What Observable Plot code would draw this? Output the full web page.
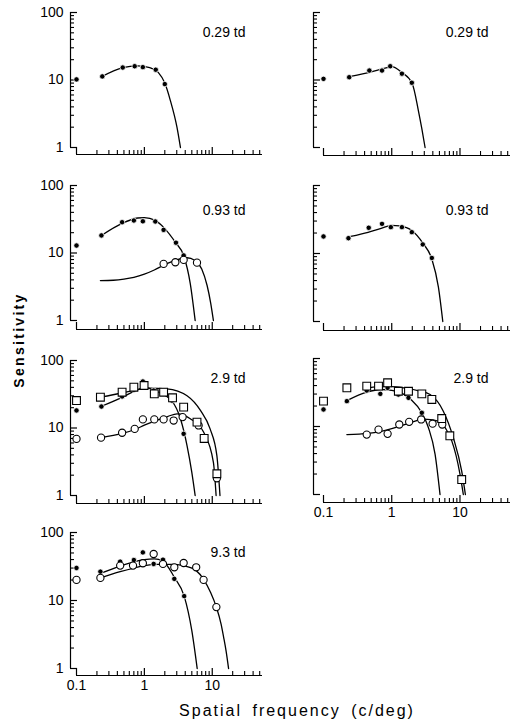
<!DOCTYPE html>
<html><head><meta charset="utf-8">
<script src="https://cdn.jsdelivr.net/npm/d3@7"></script>
<script src="https://cdn.jsdelivr.net/npm/@observablehq/plot@0.6"></script>
<style>
body{margin:0;background:#fff;}
#fig{position:relative;width:510px;height:724px;overflow:hidden;background:#fff;font-family:"Liberation Sans",Arial,sans-serif;color:#000;}
.panel{position:absolute;}
#ylab{position:absolute;left:19px;top:340px;transform:translate(-50%,-50%) rotate(-90deg);font-weight:bold;font-size:14px;letter-spacing:2.3px;white-space:nowrap;}
#xlab{position:absolute;left:297px;top:711px;transform:translate(-50%,-50%);font-size:16px;letter-spacing:2px;word-spacing:4px;white-space:nowrap;}
</style></head>
<body><div id="fig"><div id="ylab">Sensitivity</div><div id="xlab">Spatial frequency (c/deg)</div></div>
<script>
// ---- axis ticks and labels ----
const xTicksMajor = [0.1, 1, 10];
const xTickLabels = ["0.1", "1", "10"];
const xTicksMinor = [0.2,0.3,0.4,0.5,0.6,0.7,0.8,0.9,2,3,4,5,6,7,8,9,20,30,40,50];
const yTicksMajor = [1, 10, 100];
const yTickLabels = ["1", "10", "100"];
const yTicksMinor = [2,3,4,5,6,7,8,9,20,30,40,50,60,70,80,90];
const panelLabels = ["0.29 td", "0.29 td", "0.93 td", "0.93 td", "2.9 td", "2.9 td", "9.3 td"];

// ---- 0.29 td, left ----
const td029L_filled = [[0.1,10.2],[0.24,11.3],[0.48,15.3],[0.72,16.0],[0.95,15.5],[1.47,14.2],[2.0,8.7]];
const td029L_filledFit = [[0.24,11.3],[0.48,15.2],[0.8,16.2],[1.2,15.3],[1.6,13],[2.0,9],[2.41,5.0],[3.02,2.0],[3.4,1.0]];
// ---- 0.29 td, right ----
const td029R_filled = [[0.1,10.4],[0.238,11.0],[0.47,13.8],[0.72,13.8],[0.95,16.0],[1.41,12.4],[1.97,9.1]];
const td029R_filledFit = [[0.25,11.3],[0.5,13.2],[0.8,15],[1.0,15.8],[1.4,13],[2.0,8.8],[2.46,3.5],[2.76,1.9],[3.08,1.0]];
// ---- 0.93 td, left ----
const td093L_filled = [[0.1,12.9],[0.233,18.2],[0.47,28.6],[0.70,30.3],[0.95,29.5],[1.45,29.3],[1.92,22],[2.92,14.2],[3.79,9.2]];
const td093L_filledFit = [[0.233,18.2],[0.47,27.5],[0.8,33],[1.0,33.5],[1.45,30.5],[1.92,24],[2.92,14],[3.79,9.2],[4.75,3.5],[5.6,1.0]];
const td093L_open = [[1.92,6.9],[2.86,7.3],[3.79,7.9],[5.96,7.2]];
const td093L_openFit = [[0.225,3.9],[0.35,3.95],[0.5,4.1],[0.7,4.35],[1.0,4.85],[1.4,5.6],[2.0,6.7],[3.0,7.9],[4.25,8.5],[5.5,7.8],[7,5.8],[8.4,3.3],[9.5,1.8],[10.4,1.0]];
// ---- 0.93 td, right ----
const td093R_filled = [[0.1,17.8],[0.232,16.8],[0.46,23.9],[0.72,27.3],[0.97,24.4],[1.41,24.4],[1.97,20.6],[2.85,13.6],[3.87,8.6]];
const td093R_filledFit = [[0.25,17.8],[0.45,20.5],[0.7,23.5],[1.0,26],[1.3,25.5],[1.97,21.8],[2.9,13.9],[3.87,8.3],[4.83,3.2],[5.6,1.0]];
// ---- 2.9 td, left ----
const td29L_square = [[0.1,25.5],[0.225,28.6],[0.47,33.9],[0.70,40.2],[0.99,42.6],[1.40,32.1],[1.92,33.9],[2.6,28],[3.79,20.4],[5.96,12.2],[7.6,7.0],[11.7,2.1]];
const td29L_squareFit = [[0.225,28.6],[0.47,33],[0.8,37],[1.2,39],[2.15,38],[4.25,30],[6.7,18.2],[9.3,9.7],[11.7,3.9],[13,1.0]];
const td29L_filled = [[0.1,18.2],[0.233,20.8],[0.47,29.3],[0.70,36.8],[0.95,48.9],[1.37,35.9],[2.55,25.5],[3.79,8.2]];
const td29L_filledFit = [[0.233,21],[0.47,28.5],[0.8,37],[1.0,40],[1.5,35],[2.55,25],[3.4,13.7],[4.25,5.5],[5.0,2.2],[5.6,1.0]];
const td29L_open = [[0.1,6.9],[0.23,7.2],[0.47,8.5],[0.72,9.7],[0.95,13.4],[1.40,13.4],[1.92,13.4],[2.7,12.9],[3.66,14.5],[6.3,10.9],[11.7,1.8]];
const td29L_openFit = [[0.23,7.2],[0.47,8.3],[0.72,9.5],[1.0,11],[1.5,13],[2.2,14.8],[3.03,16.2],[4.75,13.7],[7.45,8.7],[10.4,3.1],[11.4,1.0]];
// ---- 2.9 td, right ----
const td29R_square = [[0.1,23.6],[0.22,37.1],[0.43,39.2],[0.64,39.2],[0.87,43.9],[1.25,33],[1.76,33],[2.76,30.2],[3.87,25],[5.4,13.1],[7.1,7.3],[10.6,1.66]];
const td29R_squareFit = [[0.43,37],[0.7,38.5],[1.0,38.5],[1.5,37],[2.5,33.5],[3.65,29.5],[5.7,16.8],[8.0,6.8],[10.6,2.2],[12,1.0]];
const td29R_filled = [[0.1,17.8],[0.22,23.6],[0.43,33.8],[0.68,30.2],[0.87,37],[1.25,29.5],[1.76,26.4],[2.76,15.9]];
const td29R_filledFit = [[0.22,24],[0.43,32],[0.7,35],[1.0,34],[1.4,31],[1.9,25],[2.76,15.9],[3.45,9.6],[4.32,3.9],[5.1,1.0]];
const td29R_open = [[0.43,7.6],[0.64,9.0],[0.87,7.8],[1.29,10.7],[1.8,11.7],[2.7,12.7],[3.97,11],[5.5,10.7]];
const td29R_openFit = [[0.22,7.6],[0.45,7.9],[0.7,8.5],[1.0,9.3],[1.5,10.6],[2.2,12],[2.8,12.8],[4,12.5],[5.5,11],[6.5,8.5],[7.6,6.1],[10,2.0],[11.2,1.0]];
// ---- 9.3 td, left ----
const td93L_filled = [[0.1,30.1],[0.225,26.6],[0.44,37.3],[0.70,39.4],[0.95,51],[1.37,34.5],[1.88,39.8],[2.76,20.8],[3.86,11.6]];
const td93L_filledFit = [[0.225,25],[0.44,32],[0.7,37],[1.0,40],[1.4,41],[1.88,38],[2.76,22],[3.86,11.6],[5.0,3.6],[6.0,1.0]];
const td93L_open = [[0.1,20.1],[0.225,21.5],[0.44,32.6],[0.68,32.6],[0.95,35.3],[1.37,48.3],[1.88,34.5],[2.76,30.8],[3.79,35.6],[5.8,30.8],[7.45,20.1],[11.5,8.0]];
const td93L_openFit = [[0.225,21.5],[0.44,26.5],[0.7,30],[1.0,32.5],[1.5,34],[2.5,34],[3.8,32.5],[5.8,27.5],[7.45,20.5],[9.5,13],[11.5,8],[13.5,4.5],[14.7,2.9],[16,1.8],[17.4,1.0]];

// ---- layout ----
const LEFT = {svgLeft: 0, width: 270, mL: 70, mR: 8, xr: [76, 262], labelDx: -17};
const RIGHT = {svgLeft: 270, width: 240, mL: 43, mR: 0, xr: [53, 240], labelDx: -22};

const px = d => d[0], py = d => d[1];
function layerMarks(l) {
  const m = [];
  if (l.fit) m.push(Plot.line(l.fit, {x: px, y: py, curve: "monotone-x", stroke: "black", strokeWidth: 1.3}));
  return m;
}
function dotMarks(l) {
  if (!l.dots) return [];
  if (l.kind === "filled") return [Plot.dot(l.dots, {x: px, y: py, r: 2.7, fill: "black", stroke: "white", strokeWidth: 0.8})];
  if (l.kind === "open") return [Plot.dot(l.dots, {x: px, y: py, r: 3.6, fill: "white", stroke: "black", strokeWidth: 1.1})];
  return [Plot.dot(l.dots, {x: px, y: py, symbol: "square", r: 4.4, fill: "white", stroke: "black", strokeWidth: 1.1})];
}

function makePanel(col, y100, y1, yAxis, label, labelDy, layers, showX, showY) {
  const top = y100 - 12, mT = 12, mB = 26;
  const height = yAxis - top + mB;
  const frameH = yAxis - y100;
  const frameW = col.width - col.mL - col.mR;
  const marks = [
    Plot.ruleX([0.1], {dx: col.mL - col.xr[0], y1: 1, y2: 100, strokeWidth: 1.2}),
    Plot.ruleY([1], {x1: 0.1, x2: 55, dy: yAxis - y1, strokeWidth: 1.2}),
    Plot.tickY(yTicksMinor, {y: d => d, insetRight: frameW - 4, strokeWidth: 1.1}),
    Plot.tickY(yTicksMajor, {y: d => d, insetRight: frameW - 7, strokeWidth: 1.2}),
    Plot.tickX(xTicksMinor, {x: d => d, insetTop: frameH - 4, strokeWidth: 1.1}),
    Plot.tickX(xTicksMajor, {x: d => d, insetTop: frameH - 7, strokeWidth: 1.2}),
  ];
  layers.forEach(l => marks.push(...layerMarks(l)));
  layers.forEach(l => marks.push(...dotMarks(l)));
  marks.push(Plot.text([label], {text: d => d, frameAnchor: "top-right", dx: col.labelDx, dy: labelDy, lineAnchor: "middle", textAnchor: "end", fontSize: 14}));
  if (showX) marks.push(Plot.axisX({ticks: xTicksMajor, tickSize: 0, tickPadding: 5, label: null, fontSize: 14,
      tickFormat: d => xTickLabels[xTicksMajor.indexOf(d)]}));
  if (showY) marks.push(Plot.axisY({ticks: yTicksMajor, tickSize: 0, tickPadding: 7, label: null, fontSize: 14,
      tickFormat: d => yTickLabels[yTicksMajor.indexOf(d)]}));
  const svg = Plot.plot({
    width: col.width, height,
    marginTop: mT, marginBottom: mB, marginLeft: col.mL, marginRight: col.mR,
    x: {type: "log", domain: [0.1, 55], range: col.xr, axis: showX ? undefined : null},
    y: {type: "log", domain: [1, 100], range: [mT + (y1 - y100), mT], axis: showY ? undefined : null},
    style: {fontFamily: "Liberation Sans, Arial, sans-serif", fontSize: "14px", color: "black", background: "transparent", overflow: "visible"},
    marks
  });
  const div = document.createElement("div");
  div.className = "panel";
  div.style.left = col.svgLeft + "px";
  div.style.top = top + "px";
  div.style.width = col.width + "px";
  div.appendChild(svg);
  document.getElementById("fig").appendChild(div);
}

makePanel(LEFT, 12, 147, 154, panelLabels[0], 20, [
  {kind: "filled", dots: td029L_filled, fit: td029L_filledFit}], false, true);
makePanel(RIGHT, 12, 147, 155, panelLabels[1], 20, [
  {kind: "filled", dots: td029R_filled, fit: td029R_filledFit}], false, false);
makePanel(LEFT, 185, 320, 329, panelLabels[2], 25, [
  {kind: "filled", dots: td093L_filled, fit: td093L_filledFit},
  {kind: "open", dots: td093L_open, fit: td093L_openFit}], false, true);
makePanel(RIGHT, 185, 321, 330, panelLabels[3], 25, [
  {kind: "filled", dots: td093R_filled, fit: td093R_filledFit}], false, false);
makePanel(LEFT, 360, 495, 503, panelLabels[4], 18, [
  {kind: "filled", dots: td29L_filled, fit: td29L_filledFit},
  {kind: "open", dots: td29L_open, fit: td29L_openFit},
  {kind: "square", dots: td29L_square, fit: td29L_squareFit}], false, true);
makePanel(RIGHT, 358, 494, 502, panelLabels[5], 20, [
  {kind: "filled", dots: td29R_filled, fit: td29R_filledFit},
  {kind: "open", dots: td29R_open, fit: td29R_openFit},
  {kind: "square", dots: td29R_square, fit: td29R_squareFit}], true, false);
makePanel(LEFT, 532, 668, 675, panelLabels[6], 20, [
  {kind: "filled", dots: td93L_filled, fit: td93L_filledFit},
  {kind: "open", dots: td93L_open, fit: td93L_openFit}], true, true);
</script>
</body></html>
